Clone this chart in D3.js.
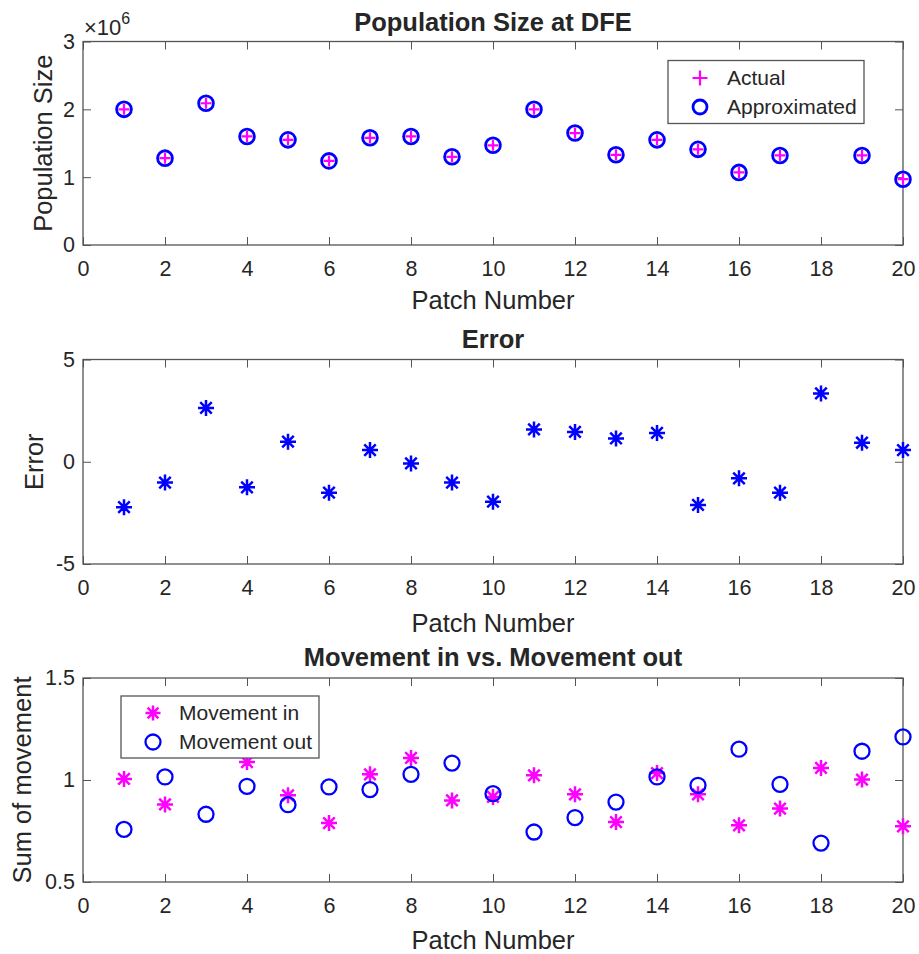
<!DOCTYPE html>
<html>
<head>
<meta charset="utf-8">
<script src="https://cdn.jsdelivr.net/npm/d3@7"></script>
<style>
  body { margin: 0; background: #fff; }
  svg text { font-family: "Liberation Sans", Arial, Helvetica, sans-serif; fill: #262626; }
</style>
</head>
<body>
<div id="chart"></div>
<script>
// patch numbers on the x axis
const patches = [1, 2, 3, 4, 5, 6, 7, 8, 9, 10, 11, 12, 13, 14, 15, 16, 17, 18, 19, 20];
const xTicks = [0, 2, 4, 6, 8, 10, 12, 14, 16, 18, 20];

// population size at DFE (x 10^6); patch 18 not shown
const popActual = [2.00, 1.28, 2.09, 1.60, 1.55, 1.24, 1.58, 1.60, 1.30, 1.47, 2.00, 1.65, 1.33, 1.55, 1.41, 1.07, 1.32, null, 1.32, 0.97];
const popApprox = [2.00, 1.28, 2.09, 1.60, 1.55, 1.24, 1.58, 1.60, 1.30, 1.47, 2.00, 1.65, 1.33, 1.55, 1.41, 1.07, 1.32, null, 1.32, 0.97];
const popTicks = [0, 1, 2, 3];

// error per patch
const errorVals = [-2.22, -1.02, 2.63, -1.25, 0.98, -1.51, 0.57, -0.08, -1.02, -1.95, 1.58, 1.46, 1.14, 1.41, -2.11, -0.81, -1.51, 3.34, 0.93, 0.57];
const errorTicks = [-5, 0, 5];

// movement in / out; patch 3 "in" sits under the legend
const moveIn = [1.005, 0.88, null, 1.088, 0.925, 0.789, 1.028, 1.108, 0.90, 0.917, 1.023, 0.93, 0.794, 1.034, 0.93, 0.778, 0.86, 1.059, 1.002, 0.773];
const moveOut = [0.758, 1.015, 0.832, 0.969, 0.879, 0.966, 0.953, 1.028, 1.083, 0.933, 0.745, 0.816, 0.892, 1.015, 0.974, 1.151, 0.979, 0.691, 1.141, 1.211];
const moveTicks = [0.5, 1, 1.5];

const W = 919, H = 954;
const left = 83, right = 903;
const BLUE = "#0000ff", MAGENTA = "#ff00ff", AXIS = "#262626";
const LABEL_SIZE = 25.5;

const svg = d3.select("#chart").append("svg")
    .attr("width", W)
    .attr("height", H);

const x = d3.scaleLinear().domain([0, 20]).range([left, right]);

// marker shapes
function plusPath(s) {
  return `M${-s},0H${s}M0,${-s}V${s}`;
}
function starPath(s) {
  const d = s * 0.72;
  return `M${-s},0H${s}M0,${-s}V${s}M${-d},${-d}L${d},${d}M${-d},${d}L${d},${-d}`;
}

function drawPanel(cfg) {
  const y = d3.scaleLinear().domain(cfg.yDomain).range([cfg.bottom, cfg.top]);
  const g = svg.append("g");

  g.append("rect")
      .attr("x", left).attr("y", cfg.top)
      .attr("width", right - left).attr("height", cfg.bottom - cfg.top)
      .attr("fill", "#fff");

  const fmt = cfg.yFormat || (d => d);

  const xb = g.append("g").attr("transform", `translate(0,${cfg.bottom})`)
      .call(d3.axisBottom(x).tickValues(xTicks).tickSize(-8).tickPadding(16).tickFormat(d => d));
  const xt = g.append("g").attr("transform", `translate(0,${cfg.top})`)
      .call(d3.axisTop(x).tickValues(xTicks).tickSize(-8).tickFormat(""));
  const yl = g.append("g").attr("transform", `translate(${left},0)`)
      .call(d3.axisLeft(y).tickValues(cfg.yTicks).tickSize(-8).tickPadding(8).tickFormat(fmt));
  const yr = g.append("g").attr("transform", `translate(${right},0)`)
      .call(d3.axisRight(y).tickValues(cfg.yTicks).tickSize(-8).tickFormat(""));

  [xb, xt, yl, yr].forEach(a => {
    a.select(".domain").remove();
    a.selectAll("line").attr("stroke", "#555").attr("stroke-width", 1);
    a.selectAll("text").attr("font-size", 21.5).attr("fill", AXIS)
        .style("font-family", "'Liberation Sans', Arial, sans-serif");
  });

  g.append("rect")
      .attr("x", left).attr("y", cfg.top)
      .attr("width", right - left).attr("height", cfg.bottom - cfg.top)
      .attr("fill", "none").attr("stroke", "#555").attr("stroke-width", 1.3);

  // title
  g.append("text")
      .attr("x", (left + right) / 2).attr("y", cfg.titleY)
      .attr("text-anchor", "middle")
      .attr("font-size", LABEL_SIZE).attr("font-weight", "bold").attr("fill", "#000")
      .text(cfg.title);

  // x label
  g.append("text")
      .attr("x", (left + right) / 2).attr("y", cfg.xLabelY)
      .attr("text-anchor", "middle")
      .attr("font-size", LABEL_SIZE)
      .text("Patch Number");

  // y label
  g.append("text")
      .attr("transform", `translate(${cfg.yLabelX},${(cfg.top + cfg.bottom) / 2}) rotate(-90)`)
      .attr("text-anchor", "middle")
      .attr("font-size", LABEL_SIZE)
      .text(cfg.yLabel);

  return { g, y };
}

// ---------- Panel 1: population size ----------
const p1 = drawPanel({
  top: 41.5, bottom: 245, yDomain: [0, 3], yTicks: popTicks,
  title: "Population Size at DFE", titleY: 31, xLabelY: 309,
  yLabel: "Population Size", yLabelX: 52
});

const popPts = patches.map((p, i) => ({ p, a: popActual[i], b: popApprox[i] }));

p1.g.append("g").selectAll("circle")
    .data(popPts.filter(d => d.b != null))
    .enter().append("circle")
    .attr("cx", d => x(d.p))
    .attr("cy", d => p1.y(d.b))
    .attr("r", 7.4)
    .attr("fill", "none")
    .attr("stroke", BLUE)
    .attr("stroke-width", 2.8);

p1.g.append("g").selectAll("path")
    .data(popPts.filter(d => d.a != null))
    .enter().append("path")
    .attr("transform", d => `translate(${x(d.p)},${p1.y(d.a)})`)
    .attr("d", plusPath(5.5))
    .attr("stroke", MAGENTA)
    .attr("stroke-width", 2.2);

// x10^6 multiplier
const mult = svg.append("text").attr("x", 84).attr("y", 35).attr("font-size", 22);
mult.append("tspan").text("\u00d710");
mult.append("tspan").attr("font-size", 16).attr("dy", -11).text("6");

// legend 1
const lg1 = svg.append("g");
lg1.append("rect")
    .attr("x", 668).attr("y", 60.5).attr("width", 196).attr("height", 63)
    .attr("fill", "#fff").attr("stroke", "#555").attr("stroke-width", 1.3);
lg1.append("path")
    .attr("transform", "translate(700,78)")
    .attr("d", plusPath(7.5))
    .attr("stroke", MAGENTA).attr("stroke-width", 2.2);
lg1.append("circle")
    .attr("cx", 700).attr("cy", 107).attr("r", 7)
    .attr("fill", "none").attr("stroke", BLUE).attr("stroke-width", 2.8);
lg1.append("text").attr("x", 727).attr("y", 78).attr("dy", "0.35em").attr("font-size", 21).attr("fill", "#000").text("Actual");
lg1.append("text").attr("x", 727).attr("y", 107).attr("dy", "0.35em").attr("font-size", 21).attr("fill", "#000").text("Approximated");

// ---------- Panel 2: error ----------
const p2 = drawPanel({
  top: 359.5, bottom: 564, yDomain: [-5, 5], yTicks: errorTicks,
  title: "Error", titleY: 348, xLabelY: 632,
  yLabel: "Error", yLabelX: 43
});

p2.g.append("g").selectAll("path")
    .data(patches.map((p, i) => ({ p, v: errorVals[i] })))
    .enter().append("path")
    .attr("transform", d => `translate(${x(d.p)},${p2.y(d.v)})`)
    .attr("d", starPath(8))
    .attr("stroke", BLUE)
    .attr("stroke-width", 2.5);

// ---------- Panel 3: movement ----------
const p3 = drawPanel({
  top: 678, bottom: 882, yDomain: [0.5, 1.5], yTicks: moveTicks,
  title: "Movement in vs. Movement out", titleY: 666, xLabelY: 949,
  yLabel: "Sum of movement", yLabelX: 31
});

p3.g.append("g").selectAll("path")
    .data(patches.map((p, i) => ({ p, v: moveIn[i] })).filter(d => d.v != null))
    .enter().append("path")
    .attr("transform", d => `translate(${x(d.p)},${p3.y(d.v)})`)
    .attr("d", starPath(8))
    .attr("stroke", MAGENTA)
    .attr("stroke-width", 2.5);

p3.g.append("g").selectAll("circle")
    .data(patches.map((p, i) => ({ p, v: moveOut[i] })))
    .enter().append("circle")
    .attr("cx", d => x(d.p))
    .attr("cy", d => p3.y(d.v))
    .attr("r", 7.5)
    .attr("fill", "none")
    .attr("stroke", BLUE)
    .attr("stroke-width", 2.3);

// legend 3
const lg3 = svg.append("g");
lg3.append("rect")
    .attr("x", 121).attr("y", 696).attr("width", 198).attr("height", 62)
    .attr("fill", "#fff").attr("stroke", "#555").attr("stroke-width", 1.3);
lg3.append("path")
    .attr("transform", "translate(153,713)")
    .attr("d", starPath(7.5))
    .attr("stroke", MAGENTA).attr("stroke-width", 2.5);
lg3.append("circle")
    .attr("cx", 153).attr("cy", 742).attr("r", 7.5)
    .attr("fill", "none").attr("stroke", BLUE).attr("stroke-width", 2.3);
lg3.append("text").attr("x", 179).attr("y", 713).attr("dy", "0.35em").attr("font-size", 21).attr("fill", "#000").text("Movement in");
lg3.append("text").attr("x", 179).attr("y", 742).attr("dy", "0.35em").attr("font-size", 21).attr("fill", "#000").text("Movement out");
</script>
</body>
</html>
